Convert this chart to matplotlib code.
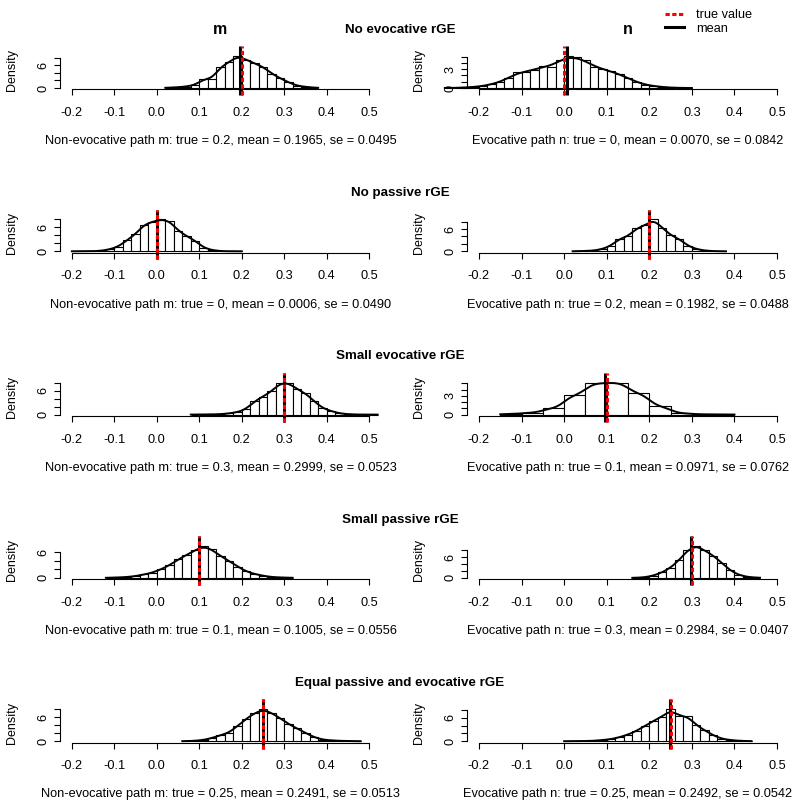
import math
import numpy as np
import matplotlib
matplotlib.use("Agg")
import matplotlib.pyplot as plt
from matplotlib.lines import Line2D

plt.rcParams['font.family'] = ['Liberation Sans', 'DejaVu Sans']
plt.rcParams['axes.unicode_minus'] = False

# ---------------- data ----------------
scenarios = ["No evocative rGE", "No passive rGE", "Small evocative rGE",
             "Small passive rGE", "Equal passive and evocative rGE"]
true_m = [0.2, 0, 0.3, 0.1, 0.25]
mean_m = [0.1965, 0.0006, 0.2999, 0.1005, 0.2491]
se_m = [0.0495, 0.0490, 0.0523, 0.0556, 0.0513]
true_n = [0, 0.2, 0.1, 0.3, 0.25]
mean_n = [0.0070, 0.1982, 0.0971, 0.2984, 0.2492]
se_n = [0.0842, 0.0488, 0.0762, 0.0407, 0.0542]
x_ticks = [-0.2, -0.1, 0.0, 0.1, 0.2, 0.3, 0.4, 0.5]

# histogram densities (first break, bin width, bar heights)
m1_start, m1_width = 0.02, 0.02
m1_dens = [0.1, 0.2, 0.4, 0.8, 2.3, 2.5, 5.5, 6.8, 8.4, 7.5, 6.5, 5.6, 3.8, 2.6, 1.5, 0.6, 0.3, 0.1]
n1_start, n1_width = -0.28, 0.02
n1_dens = [0.0, 0.02, 0.1, 0.15, 0.3, 0.6, 0.9, 1.6, 2.6, 2.5, 2.9, 3.5, 3.3, 4.5, 5.1, 4.9, 4.4,
           3.4, 3.0, 2.7, 2.2, 1.6, 0.9, 0.5, 0.3, 0.15, 0.05, 0.02, 0.0]
m2_start, m2_width = -0.20, 0.02
m2_dens = [0.02, 0.0, 0.02, 0.15, 0.5, 1.2, 2.8, 4.3, 6.7, 7.4, 8.0, 7.6, 5.2, 3.8, 2.7, 0.9, 0.3, 0.05, 0.02, 0.02]
n2_start, n2_width = 0.02, 0.02
n2_dens = [0.03, 0.1, 0.2, 0.6, 1.5, 3.4, 4.0, 6.2, 7.0, 8.6, 6.4, 4.3, 3.4, 1.5, 0.6, 0.2, 0.05, 0.02]
m3_start, m3_width = 0.08, 0.02
m3_dens = [0.02, 0.02, 0.05, 0.1, 0.3, 0.6, 1.3, 3.4, 4.5, 5.8, 7.9, 8.0, 6.4, 5.4, 3.4, 1.6, 0.9,
           0.3, 0.1, 0.03, 0.0, 0.02]
n3_start, n3_width = -0.15, 0.05
n3_dens = [0.1, 0.3, 1.0, 3.1, 5.0, 5.1, 3.4, 1.3, 0.2, 0.04, 0.02]
m4_start, m4_width = -0.12, 0.02
m4_dens = [0.05, 0.1, 0.2, 0.4, 0.8, 1.2, 2.0, 2.9, 4.3, 5.3, 6.4, 7.4, 6.6, 5.0, 4.0, 2.6, 1.5,
           0.9, 0.5, 0.2, 0.1, 0.05]
n4_start, n4_width = 0.16, 0.02
n4_dens = [0.05, 0.2, 0.7, 1.6, 3.0, 5.2, 8.0, 9.3, 8.0, 6.5, 4.4, 2.2, 0.9, 0.3, 0.1]
m5_start, m5_width = 0.06, 0.02
m5_dens = [0.03, 0.1, 0.3, 0.8, 1.5, 2.1, 3.8, 5.6, 7.0, 8.0, 7.1, 5.8, 4.3, 3.2, 2.1, 1.0, 0.4,
           0.2, 0.1, 0.05, 0.02]
n5_start, n5_width = 0.0, 0.02
n5_dens = [0.01, 0.02, 0.05, 0.1, 0.3, 0.5, 1.0, 1.7, 2.6, 4.0, 5.2, 6.3, 8.2, 6.4, 6.5, 4.1, 2.8,
           1.5, 0.6, 0.3, 0.1, 0.05]

hist_m = [(m1_start, m1_width, m1_dens), (m2_start, m2_width, m2_dens), (m3_start, m3_width, m3_dens),
          (m4_start, m4_width, m4_dens), (m5_start, m5_width, m5_dens)]
hist_n = [(n1_start, n1_width, n1_dens), (n2_start, n2_width, n2_dens), (n3_start, n3_width, n3_dens),
          (n4_start, n4_width, n4_dens), (n5_start, n5_width, n5_dens)]

# ---------------- layout ----------------
W, HF = 800, 808
fig = plt.figure(figsize=(8, 8.08), dpi=100)
col_lr = [(60, 381), (467, 789)]
axis_y0, row_gap, panel_h = 89.3, 163.3, 34.5

_erf = np.vectorize(math.erf)


def Phi(z):
    return 0.5 * (1.0 + _erf(z / math.sqrt(2.0)))


def fx(px):
    return px / W


def fy(py):
    return 1 - py / HF


def draw_panel(r, c, hist, tv, mv, se, prefix):
    start, width, dens = hist
    L, R = col_lr[c]
    ay = axis_y0 + r * row_gap
    ax = fig.add_axes([fx(L), fy(ay), (R - L) / W, panel_h / HF])
    dens = np.asarray(dens, dtype=float)
    edges = start + width * np.arange(len(dens) + 1)
    ymax = dens.max()
    ax.set_xlim(-0.228, 0.528)
    ax.set_ylim(-0.04 * ymax, 1.04 * ymax)
    ax.bar(edges[:-1], dens, width=width, align='edge', facecolor='white',
           edgecolor='black', linewidth=0.8, clip_on=False, zorder=2)
    # smoothed density of the binned values
    bw = 0.9 * se * 1000 ** -0.2
    xs = np.linspace(edges[0], edges[-1], 500)
    f = np.zeros_like(xs)
    for h, a, b in zip(dens, edges[:-1], edges[1:]):
        f += h * (Phi((xs - a) / bw) - Phi((xs - b) / bw))
    ax.plot(xs, f, color='black', lw=1.4, clip_on=False, zorder=3)

    def py2y(py):
        return -0.04 * ymax + (ay - py) / panel_h * 1.08 * ymax
    y0, y1 = py2y(ay + 6), py2y(ay - 43)
    ax.plot([mv, mv], [y0, y1], color='black', lw=2.2, clip_on=False,
            solid_capstyle='butt', zorder=4)
    ax.plot([tv, tv], [y0, y1], color='red', lw=2.2, ls=(0, (1.4, 0.8)),
            clip_on=False, zorder=5)

    for s in ['top', 'right']:
        ax.spines[s].set_visible(False)
    for sp in ax.spines.values():
        sp.set_linewidth(0.8)
    ax.spines['bottom'].set_bounds(-0.2, 0.5)
    step = 2 if ymax > 6 else 1
    yt = np.arange(0, 1.04 * ymax + 1e-9, step)
    ax.spines['left'].set_bounds(0, yt[-1])
    ax.set_xticks(x_ticks, [f"{t:.1f}" for t in x_ticks])
    show = {0, 6} if step == 2 else {0, 3}
    ax.set_yticks(yt, [f"{t:g}" if round(t) in show else "" for t in yt])
    ax.tick_params(axis='both', direction='out', length=4.3, width=0.8, labelsize=9.2)
    ax.tick_params(axis='x', pad=8.5)
    ax.tick_params(axis='y', labelrotation=90, pad=3)
    for lab in ax.get_yticklabels():
        lab.set_va('center')
    ax.patch.set_visible(False)

    # y label and subtitle
    fig.text(fx(L - 48), fy(ay - panel_h / 2 - 2), "Density", rotation=90,
             ha='center', va='center', fontsize=9)
    sub = f"{prefix}: true = {tv:g}, mean = {mv:.4f}, se = {se:.4f}"
    fig.text(fx((L + R) / 2), fy(ay + 52), sub, ha='center', va='center', fontsize=9.2)


for r in range(5):
    draw_panel(r, 0, hist_m[r], true_m[r], mean_m[r], se_m[r], "Non-evocative path m")
    draw_panel(r, 1, hist_n[r], true_n[r], mean_n[r], se_n[r], "Evocative path n")
    ay = axis_y0 + r * row_gap
    fig.text(0.5, fy(ay - 59.5), scenarios[r], ha='center', va='center',
             fontsize=9.6, fontweight='bold')

fig.text(fx(220.5), fy(29), "m", ha='center', va='center', fontsize=11.5, fontweight='bold')
fig.text(fx(628), fy(29), "n", ha='center', va='center', fontsize=11.5, fontweight='bold')

handles = [Line2D([], [], color='red', lw=2.2, ls=(0, (1.4, 0.8))),
           Line2D([], [], color='black', lw=2.2)]
fig.legend(handles, ["true value", "mean"], loc='upper left',
           bbox_to_anchor=(fx(665), fy(9)), frameon=False, fontsize=9.2,
           handlelength=1.45, handletextpad=1.0, labelspacing=0.15,
           borderaxespad=0, borderpad=0)

fig.savefig("out.png", dpi=100)
